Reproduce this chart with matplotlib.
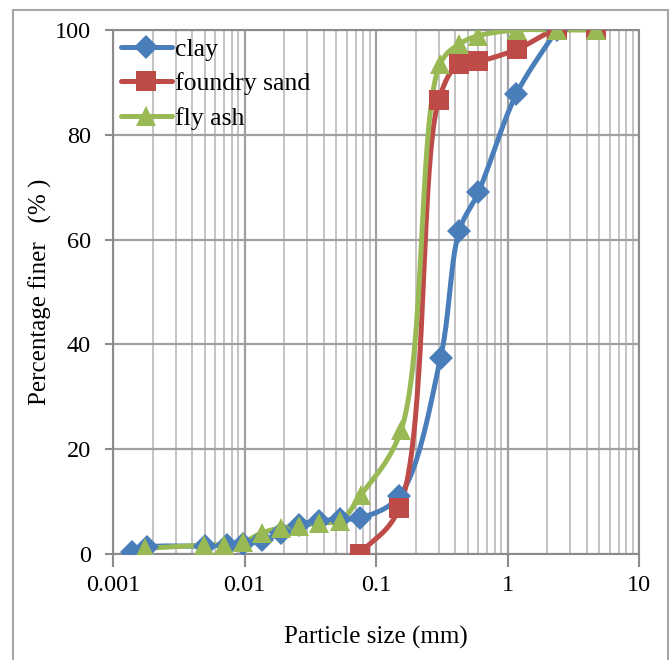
import numpy as np
import matplotlib
matplotlib.use("Agg")
import matplotlib.pyplot as plt
from matplotlib.patches import Rectangle
from matplotlib.ticker import LogLocator, FixedLocator, FixedFormatter, NullFormatter

# ------------------------------------------------------------
# data
# ------------------------------------------------------------
clay_x = [0.0014, 0.0018, 0.005, 0.0074, 0.0098, 0.0135, 0.019, 0.026,
          0.037, 0.053, 0.076, 0.15, 0.31, 0.43, 0.6, 1.17, 2.36]
clay_y = [0.3, 1.3, 1.5, 1.7, 1.9, 2.6, 4.0, 5.6, 6.3, 6.6, 6.9, 11.0,
          37.5, 61.7, 69.0, 87.8, 100.0]

sand_x = [0.075, 0.15, 0.3, 0.425, 0.6, 1.18, 2.36, 4.75]
sand_y = [0.0, 8.7, 86.6, 93.5, 94.0, 96.3, 100.0, 100.0]

ash_x = [0.00176, 0.0049, 0.007, 0.0098, 0.0135, 0.019, 0.026, 0.037,
         0.053, 0.077, 0.155, 0.307, 0.43, 0.6, 1.18, 2.36, 4.75]
ash_y = [1.1, 1.7, 1.8, 2.3, 4.0, 5.0, 5.3, 6.0, 6.3, 11.3, 23.6, 93.5,
         97.3, 98.9, 100.0, 100.0, 100.0]

x_ticks = [0.001, 0.01, 0.1, 1, 10]
x_tick_labels = ["0.001", "0.01", "0.1", "1", "10"]
y_ticks = [0, 20, 40, 60, 80, 100]


def smooth(xs, ys, n=40, alpha=0.5):
    # centripetal catmull-rom in (log x, y) space scaled to the axes box
    u = (np.log10(xs) + 3) / 4.0
    v = np.asarray(ys) / 100.0
    p = np.column_stack([u, v])
    p = np.vstack([2 * p[0] - p[1], p, 2 * p[-1] - p[-2]])
    out = []
    for i in range(1, len(p) - 2):
        P0, P1, P2, P3 = p[i - 1], p[i], p[i + 1], p[i + 2]
        t0 = 0.0
        t1 = t0 + np.linalg.norm(P1 - P0) ** alpha
        t2 = t1 + np.linalg.norm(P2 - P1) ** alpha
        t3 = t2 + np.linalg.norm(P3 - P2) ** alpha
        t = np.linspace(t1, t2, n)[:, None]
        A1 = (t1 - t) / (t1 - t0) * P0 + (t - t0) / (t1 - t0) * P1
        A2 = (t2 - t) / (t2 - t1) * P1 + (t - t1) / (t2 - t1) * P2
        A3 = (t3 - t) / (t3 - t2) * P2 + (t - t2) / (t3 - t2) * P3
        B1 = (t2 - t) / (t2 - t0) * A1 + (t - t0) / (t2 - t0) * A2
        B2 = (t3 - t) / (t3 - t1) * A2 + (t - t1) / (t3 - t1) * A3
        out.append((t2 - t) / (t2 - t1) * B1 + (t - t1) / (t2 - t1) * B2)
    out = np.vstack(out)
    return 10 ** (out[:, 0] * 4 - 3), out[:, 1] * 100


plt.rcParams["font.family"] = ["Liberation Serif", "DejaVu Serif"]
plt.rcParams["font.size"] = 17.5

fig = plt.figure(figsize=(6.7, 6.6), dpi=100)
fig.patches.append(Rectangle((13 / 670, -0.01), 655 / 670, 1 - 10 / 660 + 0.01,
                             transform=fig.transFigure, fill=False,
                             edgecolor="#A6A6A6", linewidth=1.5))

ax = fig.add_axes([113 / 670, 1 - 554 / 660, 526 / 670, 524 / 660])

series = [
    (clay_x, clay_y, "clay", "#4A7EBB", "D", 12),
    (sand_x, sand_y, "foundry sand", "#BE4B48", "s", 14),
    (ash_x, ash_y, "fly ash", "#98B954", "^", 14),
]

for xs, ys, name, col, mk, ms in series:
    sx, sy = smooth(xs, ys)
    ax.plot(sx, sy, color=col, lw=3.6, solid_capstyle="round", zorder=3)
    ax.plot(xs, ys, linestyle="none", marker=mk, markersize=ms, color=col,
            markeredgewidth=0, zorder=4)
    ax.plot([], [], color=col, lw=3.6, marker=mk, markersize=ms,
            markeredgewidth=0, solid_capstyle="round", label=name)

ax.set_xscale("log")
ax.set_xlim(0.001, 10)
ax.set_ylim(0, 100)

ax.xaxis.set_major_locator(FixedLocator(x_ticks))
ax.xaxis.set_major_formatter(FixedFormatter(x_tick_labels))
ax.xaxis.set_minor_locator(LogLocator(base=10, subs=np.arange(2, 10)))
ax.xaxis.set_minor_formatter(NullFormatter())
ax.set_yticks(y_ticks)

ax.grid(which="minor", axis="x", color="#BEBEBE", lw=1.3)
ax.grid(which="major", axis="x", color="#A0A0A0", lw=1.6)
ax.grid(which="major", axis="y", color="#A0A0A0", lw=1.6)
ax.set_axisbelow(True)

for s in ax.spines.values():
    s.set_color("#8C8C8C")
    s.set_linewidth(1.5)

ax.tick_params(axis="x", which="major", direction="out", length=9,
               width=1.5, color="#8C8C8C", pad=6)
ax.tick_params(axis="x", which="minor", length=0)
ax.tick_params(axis="y", direction="out", length=6, width=1.5,
               color="#8C8C8C", pad=10)

ax.set_xlabel("Particle size (mm)", labelpad=22, fontsize=18)
ax.set_ylabel("Percentage finer   (% )", labelpad=2, fontsize=18)

ax.legend(loc="upper left", frameon=False, handlelength=2.0,
          handletextpad=0.1, labelspacing=0.45, borderaxespad=0.1,
          borderpad=0.2, fontsize=18.5)

fig.savefig("out.png", dpi=100)
